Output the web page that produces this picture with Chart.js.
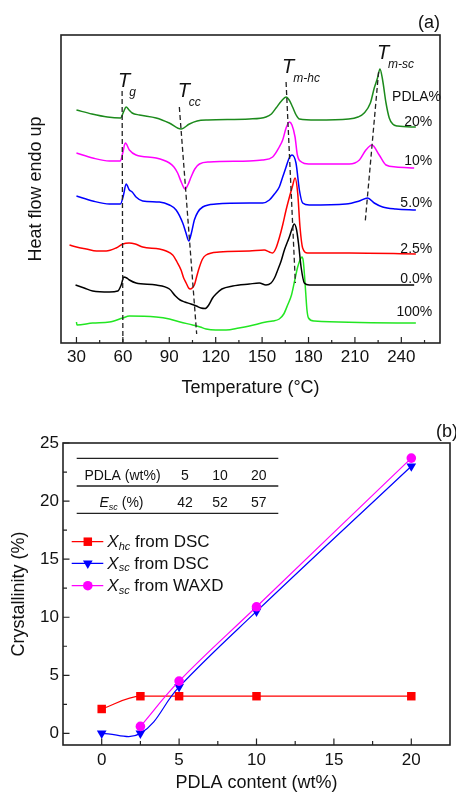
<!DOCTYPE html>
<html>
<head>
<meta charset="utf-8">
<script src="https://cdn.jsdelivr.net/npm/chart.js@4.4.1/dist/chart.umd.min.js"></script>
<style>
  html, body { margin: 0; padding: 0; background: #fff; }
  .panel { position: relative; width: 456px; }
  #panelA { height: 400px; }
  #panelB { height: 394px; }
</style>
</head>
<body>
<div class="panel" id="panelA"><canvas id="dscChart"></canvas></div>
<div class="panel" id="panelB"><canvas id="crystChart"></canvas></div>
<script>
// DSC heating scans, [temperature (°C), heat flow (a.u., curves shifted)]
const dsc20 = [[30,23.3],[40,22.9],[50,22.6],[58.5,22.5],[60.4,23.1],[62.1,23.6],[64,23.3],[66,23.0],[70.7,22.8],[81.5,22.5],[90,22.0],[97.6,21.4],[103,21.9],[108,22.2],[115,22.3],[141.8,22.4],[152.5,22.6],[156,22.9],[159,23.5],[162.5,24.2],[165.5,24.6],[167.5,24.3],[169.7,23.6],[172,22.8],[174.1,22.4],[185,22.3],[206,22.4],[212,22.6],[216,23.0],[220,24.0],[222.5,25.5],[224.6,26.5],[226.2,27.4],[227.9,26.3],[230.1,24.0],[232.2,22.5],[234.4,21.9],[237.5,21.7],[249.4,21.6]];
const dsc10 = [[30,19.0],[40.5,18.5],[51.3,18.2],[58.4,18.2],[59.9,19.0],[61.6,20.0],[64.2,19.3],[68.5,18.8],[81.5,18.5],[90.1,18.0],[93,17.6],[95.4,17.0],[98,16.0],[100.2,15.4],[102,15.8],[104.1,16.6],[106.5,17.4],[109.5,17.9],[115.9,18.1],[141.8,18.2],[150,18.3],[156.8,18.6],[161.1,19.6],[163.3,20.3],[165.5,21.5],[167.6,22.1],[169.3,21.8],[171.3,20.6],[172.8,18.8],[175.4,18.1],[180,17.9],[206.4,17.9],[212.9,18.3],[217.1,19.3],[221,19.8],[225.7,18.8],[230.1,17.8],[236.5,17.6],[248.3,17.5]];
const dsc5 = [[30,14.7],[40.5,14.2],[51.3,13.9],[58.4,13.9],[60.4,14.8],[62.1,15.9],[64.2,15.3],[66,15.1],[68.5,14.6],[72.8,14.2],[83.6,14.1],[90.1,13.8],[94.4,13.3],[98.7,12.0],[100.8,11.0],[102.6,10.2],[104.3,11.0],[106.2,12.3],[108.5,13.1],[111.6,13.6],[120.2,13.9],[141.8,14.0],[150.4,14.0],[154.7,14.3],[158,14.9],[161.1,15.6],[163.3,16.6],[165.5,17.6],[167.5,18.5],[169.3,18.8],[171.9,18.0],[174.1,15.3],[176.2,14.0],[180.5,13.8],[204.2,13.9],[212.8,14.2],[218.2,14.5],[222.5,14.0],[227.9,13.6],[236.5,13.4],[249.4,13.3]];
const dsc2p5 = [[25.5,9.8],[30,9.6],[36.3,9.4],[43,9.2],[49.2,9.2],[55.6,9.5],[60,9.9],[64,10.0],[68,9.9],[72.8,9.6],[83.6,9.4],[88,9.2],[92.2,8.8],[95,8.1],[97.6,7.3],[99.3,6.5],[100.9,6.0],[102.5,5.5],[103.6,5.4],[104.8,5.5],[106.2,5.8],[107.8,6.7],[109.5,7.6],[111.5,8.4],[113.8,8.8],[122.4,9.1],[141.8,9.2],[151.4,9.3],[154.7,9.1],[156.8,9.0],[159,9.5],[161.1,10.5],[163.3,11.8],[165.5,13.3],[167.5,14.5],[169.5,15.6],[171.3,16.5],[173,15.0],[174.5,11.6],[176.2,9.5],[179.4,9.0],[206.4,9.0],[249.4,8.9]];
const dsc0 = [[29.4,5.8],[35,5.5],[40.5,5.2],[51.3,5.1],[56.7,5.2],[58.9,5.8],[60.6,6.6],[62.5,6.5],[64.2,6.3],[68.5,6.0],[81.5,5.8],[90.1,5.4],[94,4.7],[97,4.3],[100,4.1],[104,3.9],[107.5,3.7],[110.5,3.5],[113.2,3.45],[115.5,3.8],[118,4.5],[120.2,4.9],[124,5.4],[131,5.7],[141.8,5.9],[148.2,6.0],[152.5,5.8],[155.8,6.0],[158,6.5],[160.1,7.3],[162.3,8.2],[164.4,9.3],[167.6,10.6],[169.3,11.4],[170.8,11.9],[172.3,11.3],[173.5,10.0],[175.2,7.6],[177.3,6.0],[180.5,5.8],[248.3,5.8]];
const dsc100 = [[30,2.1],[30.3,1.8],[40.5,2.0],[51.3,2.1],[59.9,2.5],[64.2,2.7],[81.5,2.6],[90.1,2.4],[97,2.1],[105.1,1.8],[110,1.6],[113.8,1.4],[120,1.3],[126.7,1.3],[135,1.5],[141.8,1.7],[152.5,2.1],[156.8,2.2],[161.1,2.4],[164,2.9],[166.5,3.8],[169,4.8],[171,6.2],[173,7.6],[174.8,8.4],[175.8,8.6],[176.6,8.2],[177.4,6.8],[178.2,5.0],[179,3.3],[180,2.5],[183.7,2.2],[249.4,2.0]];
const dscLabels = ['20%', '10%', '5.0%', '2.5%', '0.0%', '100%'];

// transition guide lines, [T, heat flow] end points
const tgGuide = [[59.5, 25.2], [60, 0.1]];
const tccGuide = [[96.5, 23.6], [107.7, 0.9]];
const tmhcGuide = [[165.5, 26.1], [171.5, 6.0]];
const tmscGuide = [[225.3, 27.1], [216.7, 12.2]];
const tempTicks = [30, 60, 90, 120, 150, 180, 210, 240];

// crystallinity against PDLA content
const pdlaContent = [0, 2.5, 5, 10, 20];
const xhcDsc = [2.1, 3.2, 3.2, 3.2, 3.2];
const xscDsc = [0, 0, 4.0, 10.5, 23.0];
const xscWaxd = [null, 0.6, 4.5, 10.9, 23.7];
const pdlaTicks = [0, 5, 10, 15, 20];
const crystTicks = [0, 5, 10, 15, 20, 25];

// stereocomplex efficiency
const tablePdla = [5, 10, 20];
const tableEsc = [42, 52, 57];

const FONT = "'Liberation Sans', Arial, sans-serif";
const INK = '#111';
const FRAME = '#222';
Chart.defaults.font.family = FONT;
Chart.defaults.color = INK;

const xy = pts => pts.map(p => ({ x: p[0], y: p[1] }));
const zip = (xs, ys) => xs.map((x, i) => ({ x, y: ys[i] })).filter(p => p.y !== null);

// box round the plot area, ticks pointing inwards
function frame(axes, major, minor) {
  return {
    id: 'frame',
    afterDatasetsDraw(chart) {
      const { ctx, chartArea: a, scales } = chart;
      ctx.save();
      ctx.strokeStyle = FRAME;
      ctx.lineWidth = 1.6;
      ctx.strokeRect(a.left, a.top, a.right - a.left, a.bottom - a.top);
      ctx.lineWidth = 1.2;
      ctx.beginPath();
      axes.forEach(id => {
        const s = scales[id];
        const vals = s.ticks.map(t => t.value);
        const step = vals[1] - vals[0];
        const mark = (v, len) => {
          const p = s.getPixelForValue(v);
          if (s.isHorizontal()) { ctx.moveTo(p, a.bottom); ctx.lineTo(p, a.bottom - len); }
          else { ctx.moveTo(a.left, p); ctx.lineTo(a.left + len, p); }
        };
        vals.forEach(v => mark(v, major));
        for (let v = vals[0] - step / 2; v < s.max; v += step) {
          if (v > s.min) mark(v, minor);
        }
      });
      ctx.stroke();
      ctx.restore();
    }
  };
}

const fixTicks = list => scale => { scale.ticks = list.map(v => ({ value: v })); };

// ---------- (a) DSC ----------
const dscColors = ['#1c8a1c', '#ff00ff', '#0000ff', '#ff0000', '#000000', '#22e622'];
const dscSets = [dsc20, dsc10, dsc5, dsc2p5, dsc0, dsc100];

const guide = pts => ({
  data: xy(pts), borderColor: FRAME, borderWidth: 1.3, borderDash: [5, 3],
  pointRadius: 0, tension: 0
});

const dscText = {
  id: 'dscText',
  afterDatasetsDraw(chart) {
    const { ctx, scales: { x, y }, chartArea } = chart;
    ctx.save();
    ctx.fillStyle = INK;
    ctx.textBaseline = 'alphabetic';
    ctx.textAlign = 'left';
    [
      { sub: 'g', at: [56.8, 25.6] },
      { sub: 'cc', at: [95.4, 24.6] },
      { sub: 'm-hc', at: [162.9, 27.0] },
      { sub: 'm-sc', at: [224.2, 28.4] }
    ].forEach(t => {
      const px = x.getPixelForValue(t.at[0]);
      const py = y.getPixelForValue(t.at[1]);
      ctx.font = 'italic 20px ' + FONT;
      ctx.fillText('T', px, py);
      const w = ctx.measureText('T').width;
      ctx.font = 'italic 12px ' + FONT;
      ctx.fillText(t.sub, px + w - 1, py + 8.5);
    });
    ctx.font = '14px ' + FONT;
    ctx.fillText('PDLA%', x.getPixelForValue(234), y.getPixelForValue(24.2));
    ctx.textAlign = 'right';
    const levels = [21.7, 17.8, 13.6, 9.0, 6.0, 2.7];
    dscLabels.forEach((lab, i) => {
      ctx.fillText(lab, x.getPixelForValue(260), y.getPixelForValue(levels[i]));
    });
    ctx.font = '18px ' + FONT;
    ctx.fillText('(a)', chartArea.right, 28);
    ctx.restore();
  }
};

new Chart(document.getElementById('dscChart'), {
  type: 'line',
  data: {
    datasets: [
      guide(tgGuide), guide(tccGuide), guide(tmhcGuide), guide(tmscGuide),
      ...dscSets.map((s, i) => ({
        label: dscLabels[i],
        data: xy(s),
        borderColor: dscColors[i],
        borderWidth: 1.5,
        pointRadius: 0,
        cubicInterpolationMode: 'monotone'
      }))
    ]
  },
  options: {
    responsive: true,
    maintainAspectRatio: false,
    animation: false,
    events: [],
    layout: { padding: { left: 0, right: 16, top: 35, bottom: 0 } },
    plugins: { legend: { display: false }, tooltip: { enabled: false } },
    scales: {
      x: {
        type: 'linear', min: 20, max: 265,
        afterBuildTicks: fixTicks(tempTicks),
        afterFit: s => { s.height = 57; },
        grid: { display: false, drawTicks: false },
        border: { display: false },
        ticks: { font: { size: 17 }, padding: 4, color: INK, maxRotation: 0 },
        title: { display: true, text: 'Temperature (°C)', font: { size: 18 }, color: INK, padding: { top: 0, bottom: 1 } }
      },
      y: {
        min: 0, max: 30.8,
        afterFit: s => { s.width = 61; },
        grid: { display: false, drawTicks: false },
        border: { display: false },
        ticks: { display: false },
        title: { display: true, text: 'Heat flow endo up', font: { size: 18 }, color: INK, padding: { top: 25, bottom: 0 } }
      }
    }
  },
  plugins: [frame(['x'], 6, 3), dscText]
});

// ---------- (b) crystallinity ----------
const series = [
  { name: 'hc', source: ' from DSC', values: xhcDsc, color: '#ff0000', style: 'rect', radius: 6, rotation: 0, mode: 'monotone', order: 3 },
  { name: 'sc', source: ' from DSC', values: xscDsc, color: '#0000ff', style: 'triangle', radius: 5.6, rotation: 180, mode: 'default', order: 2 },
  { name: 'sc', source: ' from WAXD', values: xscWaxd, color: '#ff00ff', style: 'circle', radius: 4.8, rotation: 0, mode: 'default', order: 1 }
];

function marker(ctx, s, x, y) {
  ctx.fillStyle = s.color;
  ctx.beginPath();
  if (s.style === 'rect') {
    const h = Math.SQRT1_2 * s.radius;
    ctx.rect(x - h, y - h, 2 * h, 2 * h);
  } else if (s.style === 'triangle') {
    const r = s.radius;
    ctx.moveTo(x, y + r);
    ctx.lineTo(x - r * Math.sin(Math.PI / 3), y - r / 2);
    ctx.lineTo(x + r * Math.sin(Math.PI / 3), y - r / 2);
    ctx.closePath();
  } else {
    ctx.arc(x, y, s.radius, 0, Math.PI * 2);
  }
  ctx.fill();
}

const crystText = {
  id: 'crystText',
  afterDatasetsDraw(chart) {
    const { ctx, chartArea } = chart;
    ctx.save();
    ctx.fillStyle = INK;
    ctx.strokeStyle = FRAME;
    ctx.textBaseline = 'alphabetic';

    // efficiency table
    ctx.lineWidth = 1.3;
    ctx.beginPath();
    [58.3, 86, 113.3].forEach(ty => { ctx.moveTo(76.7, ty); ctx.lineTo(278.3, ty); });
    ctx.stroke();
    const cols = [185, 220, 258.7];
    ctx.font = '14px ' + FONT;
    ctx.textAlign = 'center';
    ctx.fillText('PDLA (wt%)', 122.5, 80);
    tablePdla.forEach((v, i) => ctx.fillText(String(v), cols[i], 80));
    tableEsc.forEach((v, i) => ctx.fillText(String(v), cols[i], 107.3));
    ctx.textAlign = 'left';
    ctx.font = 'italic 14px ' + FONT;
    const wE = ctx.measureText('E').width;
    ctx.font = 'italic 9px ' + FONT;
    const wSc = ctx.measureText('sc').width;
    ctx.font = '14px ' + FONT;
    const wP = ctx.measureText(' (%)').width;
    let tx = 121.5 - (wE + wSc + wP) / 2;
    ctx.font = 'italic 14px ' + FONT;
    ctx.fillText('E', tx, 107.3);
    ctx.font = 'italic 9px ' + FONT;
    ctx.fillText('sc', tx + wE, 110);
    ctx.font = '14px ' + FONT;
    ctx.fillText(' (%)', tx + wE + wSc, 107.3);

    // legend
    const rows = [141.7, 163.3, 185.7];
    series.forEach((s, i) => {
      const ly = rows[i];
      ctx.strokeStyle = s.color;
      ctx.lineWidth = 1.2;
      ctx.beginPath();
      ctx.moveTo(71.7, ly);
      ctx.lineTo(103.3, ly);
      ctx.stroke();
      marker(ctx, s, 87.8, ly);
      ctx.fillStyle = INK;
      let lx = 107.3;
      ctx.font = 'italic 17px ' + FONT;
      ctx.fillText('X', lx, ly + 5.6);
      lx += ctx.measureText('X').width;
      ctx.font = 'italic 11px ' + FONT;
      ctx.fillText(s.name, lx, ly + 7.8);
      lx += ctx.measureText(s.name).width;
      ctx.font = '17px ' + FONT;
      ctx.fillText(s.source, lx, ly + 5.6);
    });

    ctx.font = '18px ' + FONT;
    ctx.fillText('(b)', 436, 37);
    ctx.restore();
  }
};

new Chart(document.getElementById('crystChart'), {
  type: 'line',
  data: {
    datasets: series.map(s => ({
      label: 'X' + s.name + s.source,
      data: zip(pdlaContent, s.values),
      borderColor: s.color,
      backgroundColor: s.color,
      borderWidth: 1.2,
      pointStyle: s.style,
      pointRotation: s.rotation,
      pointRadius: s.radius,
      pointBorderWidth: 0,
      pointBackgroundColor: s.color,
      tension: 0.4,
      cubicInterpolationMode: s.mode,
      order: s.order,
      clip: false
    }))
  },
  options: {
    responsive: true,
    maintainAspectRatio: false,
    animation: false,
    events: [],
    layout: { padding: { left: 0, right: 0, top: 43, bottom: 0 } },
    plugins: { legend: { display: false }, tooltip: { enabled: false } },
    scales: {
      x: {
        type: 'linear', min: -2.5, max: 22.5,
        afterBuildTicks: fixTicks(pdlaTicks),
        afterFit: s => { s.height = 49; },
        grid: { display: false, drawTicks: false },
        border: { display: false },
        ticks: { font: { size: 17 }, padding: 5, color: INK, maxRotation: 0 },
        title: { display: true, text: 'PDLA content (wt%)', font: { size: 18 }, color: INK, padding: { top: 0, bottom: 0 } }
      },
      y: {
        min: -1, max: 25,
        afterBuildTicks: fixTicks(crystTicks),
        afterFit: s => { s.width = 63; },
        grid: { display: false, drawTicks: false },
        border: { display: false },
        ticks: { font: { size: 17 }, padding: 4, color: INK },
        title: { display: true, text: 'Crystallinity (%)', font: { size: 18 }, color: INK, padding: { top: 8, bottom: 0 } }
      }
    }
  },
  plugins: [frame(['x', 'y'], 6.5, 4), crystText]
});
</script>
</body>
</html>
